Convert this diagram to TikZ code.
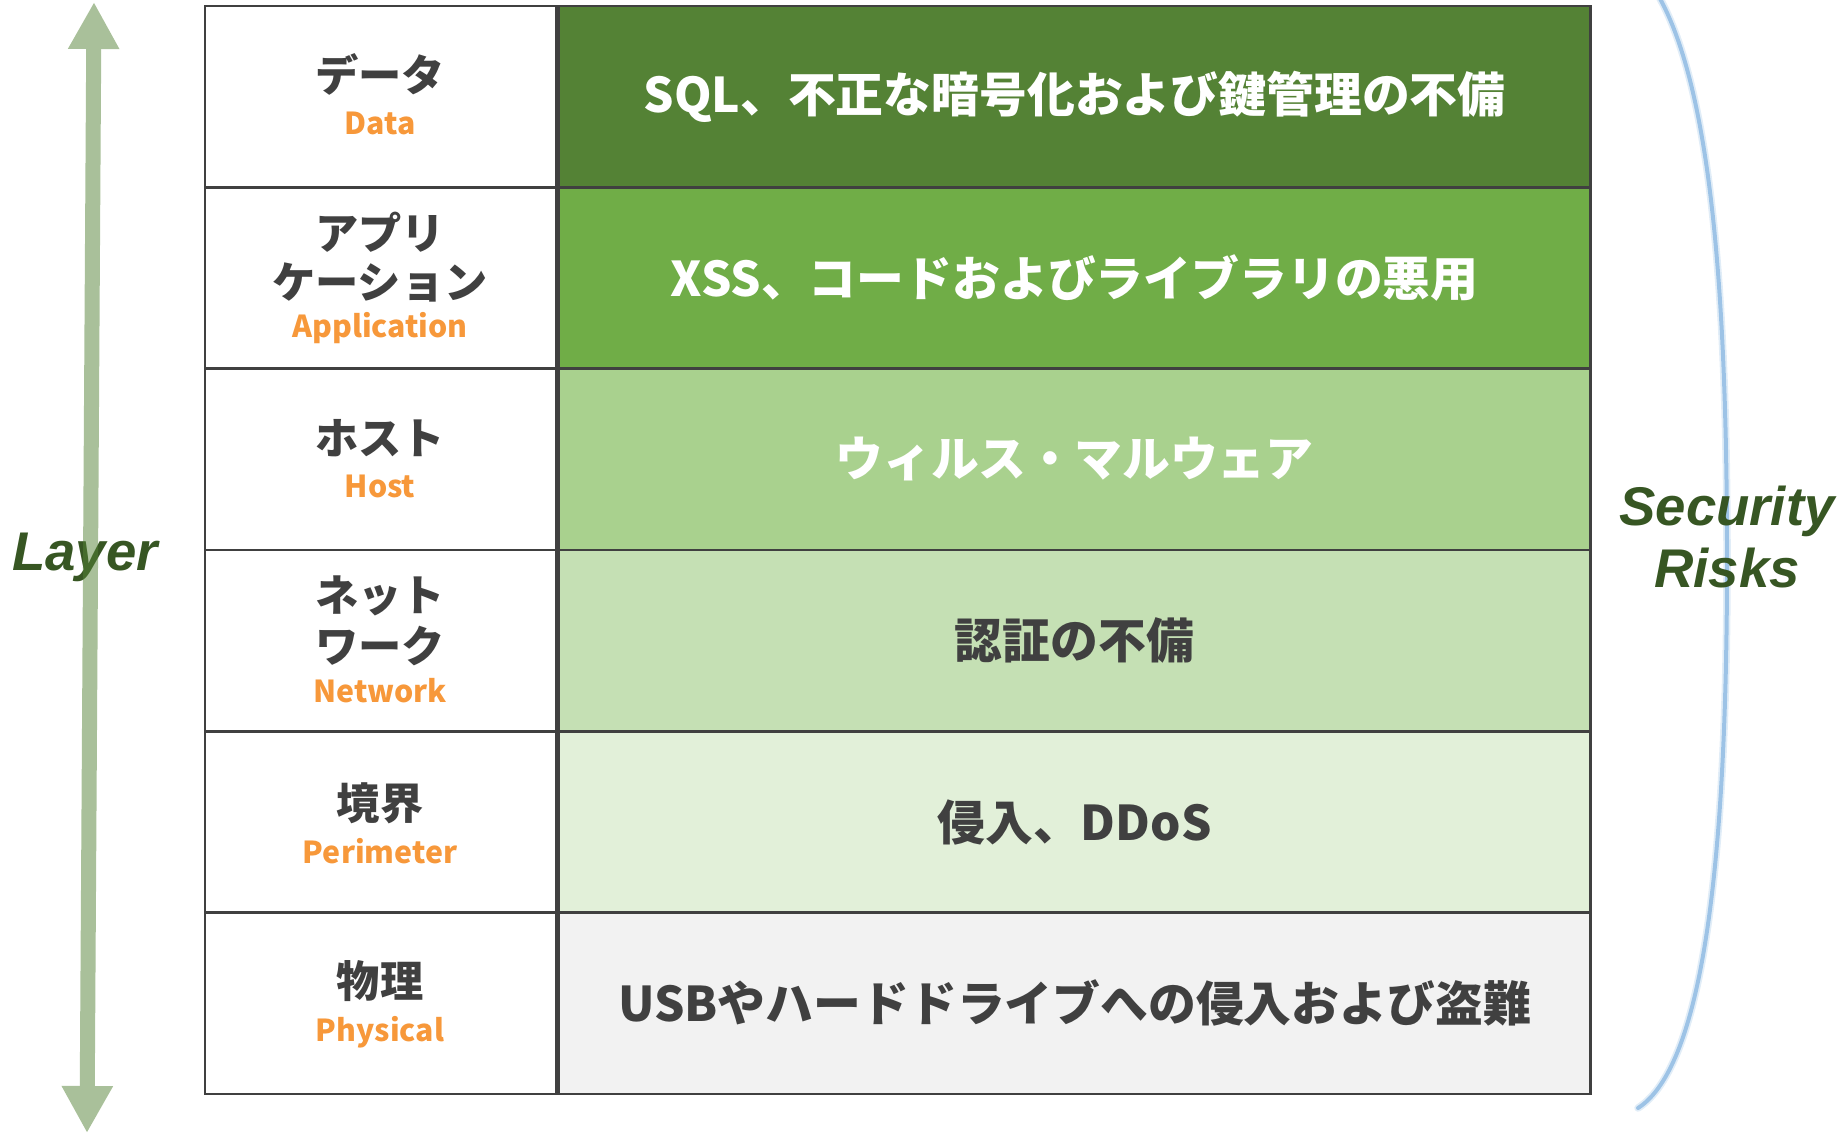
\documentclass[tikz,border=0pt]{standalone}
\usepackage{fontspec}
\newfontfamily\jp{Noto Sans CJK JP}
\newfontfamily\arialbi{Liberation Sans}
\usetikzlibrary{arrows.meta}
\definecolor{gridline}{HTML}{404040}
\definecolor{txtgray}{HTML}{404040}
\definecolor{engorange}{HTML}{F7983A}
\definecolor{darkgreen}{HTML}{375623}
\definecolor{arrowgreen}{HTML}{548235}
\definecolor{curveblue}{HTML}{9DC3E6}
\definecolor{rowA}{HTML}{548235}
\definecolor{rowB}{HTML}{70AD47}
\definecolor{rowC}{HTML}{A9D18E}
\definecolor{rowD}{HTML}{C5E0B4}
\definecolor{rowE}{HTML}{E2F0D9}
\definecolor{rowF}{HTML}{F2F2F2}
\tikzset{
  lcell/.style={draw=gridline, line width=0.7pt, fill=white, minimum width=3.51cm, minimum height=1.813cm, inner sep=0pt},
  rcell/.style={draw=gridline, line width=0.7pt, minimum width=10.31cm, minimum height=1.813cm, inner sep=0pt},
  jplabel/.style={font=\jp\bfseries\fontsize{12.3pt}{14pt}\selectfont, text=txtgray, inner sep=0pt},
  enlabel/.style={font=\jp\bfseries\fontsize{8.6pt}{10pt}\selectfont, text=engorange, inner sep=0pt},
  risklabel/.style={font=\jp\bfseries\fontsize{13.6pt}{15pt}\selectfont, inner sep=0pt},
  sidelabel/.style={font=\arialbi\bfseries\itshape\fontsize{15.5pt}{17.5pt}\selectfont, text=darkgreen, inner sep=0pt, align=center},
  layerarrow/.style={line width=0.15cm, draw=arrowgreen, fill=arrowgreen,
    {Triangle[length=0.47cm,width=0.48cm]}-{Triangle[length=0.47cm,width=0.48cm]}},
}
\begin{document}
\begin{tikzpicture}[x=0.01cm, y=-0.01cm]
\useasboundingbox (0,0) rectangle (1843,1135);
% left column cells
\node[lcell] (l1) at (380.5, 96.7) {};
\node[lcell] (l2) at (380.5, 278.0) {};
\node[lcell] (l3) at (380.5, 459.3) {};
\node[lcell] (l4) at (380.5, 640.7) {};
\node[lcell] (l5) at (380.5, 822.0) {};
\node[lcell] (l6) at (380.5, 1003.3) {};
% right column cells
\node[rcell, fill=rowA] (r1) at (1074.5, 96.7) {};
\node[rcell, fill=rowB] (r2) at (1074.5, 278.0) {};
\node[rcell, fill=rowC] (r3) at (1074.5, 459.3) {};
\node[rcell, fill=rowD] (r4) at (1074.5, 640.7) {};
\node[rcell, fill=rowE] (r5) at (1074.5, 822.0) {};
\node[rcell, fill=rowF] (r6) at (1074.5, 1003.3) {};
% left labels
\node[jplabel] (j1) at (380, 74) {データ};
\node[enlabel] (e1) at (380, 123) {Data};
\node[jplabel] (j2a) at (380, 232) {アプリ};
\node[jplabel] (j2b) at (380, 282) {ケーション};
\node[enlabel] (e2) at (380, 328) {Application};
\node[jplabel] (j3) at (380, 438) {ホスト};
\node[enlabel] (e3) at (380, 486) {Host};
\node[jplabel] (j4a) at (380, 596) {ネット};
\node[jplabel] (j4b) at (380, 646) {ワーク};
\node[enlabel] (e4) at (380, 691) {Network};
\node[jplabel] (j5) at (380, 803) {境界};
\node[enlabel] (e5) at (380, 851) {Perimeter};
\node[jplabel] (j6) at (380, 981) {物理};
\node[enlabel] (e6) at (380, 1032) {Physical};
% right labels
\node[risklabel, text=white] (t1) at (r1) {SQL、不正な暗号化および鍵管理の不備};
\node[risklabel, text=white] (t2) at (r2) {XSS、コードおよびライブラリの悪用};
\node[risklabel, text=white] (t3) at (r3) {ウィルス・マルウェア};
\node[risklabel, text=txtgray] (t4) at (r4) {認証の不備};
\node[risklabel, text=txtgray] (t5) at (r5) {侵入、DDoS};
\node[risklabel, text=txtgray] (t6) at (r6) {USBやハードドライブへの侵入および盗難};
% right bracket curve
\draw[curveblue, line width=0.075cm, opacity=0.3, line cap=round]
  (1658,-5) .. controls (1712,90) and (1727,300) .. (1727,560)
  .. controls (1727,850) and (1705,1065) .. (1638,1108);
\draw[curveblue, line width=0.04cm, line cap=round]
  (1658,-5) .. controls (1712,90) and (1727,300) .. (1727,560)
  .. controls (1727,850) and (1705,1065) .. (1638,1108);
\node[sidelabel] (risks) at (1727, 537) {Security\\Risks};
% layer arrow
\node[sidelabel] (layer) at (85, 557) {Layer};
\coordinate (abot) at (87,1133);
\coordinate (atop) at (94,2);
\begin{scope}[transparency group, opacity=0.5]
\draw[layerarrow] (abot) -- (atop);
\end{scope}
\end{tikzpicture}
\end{document}
